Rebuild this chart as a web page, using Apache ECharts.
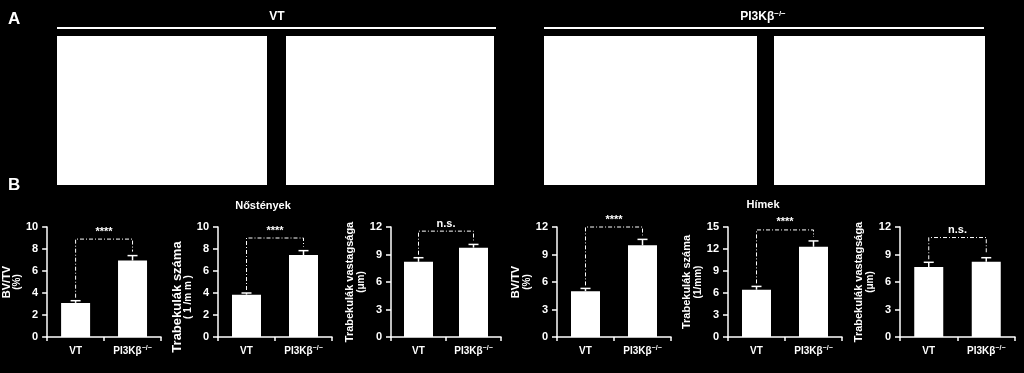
<!DOCTYPE html>
<html>
<head>
<meta charset="utf-8">
<script src="https://cdn.jsdelivr.net/npm/echarts@6/dist/echarts.min.js"></script>
<style>
html,body{margin:0;padding:0;background:#000;}
#c{width:1024px;height:373px;}
</style>
</head>
<body>
<div id="c"></div>
<script>
// ---- data ----
const categories = ['VT', 'PI3Kβ'];
const vtMean = [3.1, 3.85, 8.2, 5.0, 6.45, 7.65];
const vtErr  = [0.2, 0.15, 0.45, 0.3, 0.45, 0.5];
const piMean = [6.95, 7.45, 9.75, 10.0, 12.3, 8.2];
const piErr  = [0.45, 0.4, 0.35, 0.65, 0.8, 0.45];
const bracketLevel = [8.9, 9.0, 11.55, 12.0, 14.6, 10.85];
const sigLabels = ['****', '****', 'n.s.', '****', '****', 'n.s.'];
const yMax = [10, 10, 12, 12, 15, 12];
const yInterval = [2, 2, 3, 3, 3, 3];
const yNameMain = ['BV/TV', 'Trabekulák száma', 'Trabekulák vastagsága', 'BV/TV', 'Trabekulák száma', 'Trabekulák vastagsága'];
const yNameUnit = ['(%)', '( 1 /m m )', '(μm)', '(%)', '(1/mm)', '(μm)'];
const groupTitles = ['Nőstények', 'Hímek'];
const panelTitles = ['VT', 'PI3Kβ'];

// ---- layout ----
const FONT = 'Liberation Sans, Arial, sans-serif';
const gridLeft = [47, 218, 391, 557, 728, 900];
const gridWidth = [114, 114, 110, 114, 114, 115];
const nameGaps = [24, 23, 19, 25, 23, 22];
const nameMainSize = [11, 13, 11, 11, 11, 11];
const namePad = [[0,0,0,0],[0,30,0,0],[0,0,0,0],[0,0,0,0],[0,0,0,0],[0,0,0,0]];

const chart = echarts.init(document.getElementById('c'));

const grids = [], xAxes = [], yAxes = [], series = [];
for (let i = 0; i < 6; i++) {
  grids.push({left: gridLeft[i], width: gridWidth[i], top: 227, height: 110});
  xAxes.push({
    type: 'category', gridIndex: i, data: categories,
    axisLine: {lineStyle: {color: '#fff', width: 1.5}},
    axisTick: {show: true, length: 4, interval: 0, lineStyle: {color: '#fff', width: 1.5}},
    axisLabel: {
      margin: 8, color: '#fff', interval: 0, hideOverlap: false,
      formatter: v => v === 'VT' ? '{m|VT}' : '{m|' + v + '}{s|−/−}',
      rich: {
        m: {fontFamily: FONT, fontWeight: 'bold', fontSize: 10, color: '#fff', lineHeight: 12},
        s: {fontFamily: FONT, fontWeight: 'bold', fontSize: 7, color: '#fff', verticalAlign: 'top', padding: [0,0,6,0]}
      }
    }
  });
  yAxes.push({
    type: 'value', gridIndex: i, min: 0, max: yMax[i], interval: yInterval[i],
    splitLine: {show: false},
    axisLine: {show: true, lineStyle: {color: '#fff', width: 1.5}},
    axisTick: {show: true, length: 5, lineStyle: {color: '#fff', width: 1.5}},
    axisLabel: {color: '#fff', fontFamily: FONT, fontWeight: 'bold', fontSize: 11, margin: 9},
    name: '{a|' + yNameMain[i] + '}\n{b|' + yNameUnit[i] + '}',
    nameLocation: 'middle', nameGap: nameGaps[i],
    nameTextStyle: {
      color: '#fff', align: 'center', padding: namePad[i],
      rich: {
        a: {fontFamily: FONT, fontWeight: 'bold', fontSize: nameMainSize[i], color: '#fff', lineHeight: 11, align: 'center'},
        b: {fontFamily: FONT, fontWeight: 'bold', fontSize: 10, color: '#fff', lineHeight: 10, align: 'center'}
      }
    }
  });
  series.push({
    type: 'bar', xAxisIndex: i, yAxisIndex: i, barWidth: 29,
    itemStyle: {color: '#fff'},
    data: [vtMean[i], piMean[i]], silent: true
  });
  // error bars (upper)
  series.push({
    type: 'custom', xAxisIndex: i, yAxisIndex: i, silent: true,
    data: [[0, vtMean[i], vtMean[i] + vtErr[i]], [1, piMean[i], piMean[i] + piErr[i]]],
    renderItem: (params, api) => {
      const p0 = api.coord([api.value(0), api.value(1)]);
      const p1 = api.coord([api.value(0), api.value(2)]);
      return {type: 'group', children: [
        {type: 'line', shape: {x1: p0[0], y1: p0[1], x2: p1[0], y2: p1[1]}, style: {stroke: '#fff', lineWidth: 1.5}},
        {type: 'line', shape: {x1: p1[0] - 5, y1: p1[1], x2: p1[0] + 5, y2: p1[1]}, style: {stroke: '#fff', lineWidth: 1.5}}
      ]};
    }
  });
  // significance bracket
  series.push({
    type: 'custom', xAxisIndex: i, yAxisIndex: i, silent: true,
    data: [[vtMean[i] + vtErr[i], piMean[i] + piErr[i], bracketLevel[i]]],
    renderItem: (params, api) => {
      const a = api.coord([0, api.value(0)]);
      const b = api.coord([1, api.value(1)]);
      const ya = api.coord([0, api.value(2)])[1];
      const pts = [[a[0], a[1] - 3], [a[0], ya], [b[0], ya], [b[0], b[1] - 4]];
      return {type: 'group', children: [
        {type: 'polyline', shape: {points: pts}, style: {stroke: '#fff', lineWidth: 1, fill: null, lineDash: [4, 2, 1, 2]}},
        {type: 'text', style: {x: (a[0] + b[0]) / 2, y: ya - 2, text: sigLabels[i],
          fill: '#fff', font: 'bold 11px ' + FONT, textAlign: 'center', textVerticalAlign: 'bottom'}}
      ]};
    }
  });
}

const graphics = [
  {type: 'text', left: 8, top: 11, style: {text: 'A', fill: '#fff', font: 'bold 17px ' + FONT}},
  {type: 'text', left: 8, top: 177, style: {text: 'B', fill: '#fff', font: 'bold 17px ' + FONT}},
  {type: 'rect', shape: {x: 57, y: 27, width: 439, height: 2}, style: {fill: '#fff'}},
  {type: 'rect', shape: {x: 544, y: 27, width: 440, height: 2}, style: {fill: '#fff'}},
  {type: 'rect', shape: {x: 57, y: 36, width: 210, height: 149}, style: {fill: '#fff'}},
  {type: 'rect', shape: {x: 286, y: 36, width: 208, height: 149}, style: {fill: '#fff'}},
  {type: 'rect', shape: {x: 544, y: 36, width: 213, height: 149}, style: {fill: '#fff'}},
  {type: 'rect', shape: {x: 774, y: 36, width: 211, height: 149}, style: {fill: '#fff'}},
  {type: 'text', x: 277, y: 17, style: {text: panelTitles[0], fill: '#fff', font: 'bold 12px ' + FONT, textAlign: 'center', textVerticalAlign: 'middle'}},
  {type: 'text', x: 763, y: 17, style: {
    text: '{m|' + panelTitles[1] + '}{s|−/−}', textAlign: 'center', textVerticalAlign: 'middle',
    rich: {m: {fill: '#fff', font: 'bold 12px ' + FONT, lineHeight: 14}, s: {fill: '#fff', font: 'bold 8px ' + FONT, verticalAlign: 'top', padding: [0,0,7,0]}}
  }},
  {type: 'text', x: 263, y: 206, style: {text: groupTitles[0], fill: '#fff', font: 'bold 11px ' + FONT, textAlign: 'center', textVerticalAlign: 'middle'}},
  {type: 'text', x: 763, y: 205, style: {text: groupTitles[1], fill: '#fff', font: 'bold 11px ' + FONT, textAlign: 'center', textVerticalAlign: 'middle'}}
];

chart.setOption({
  backgroundColor: '#000',
  animation: false,
  grid: grids, xAxis: xAxes, yAxis: yAxes, series: series,
  graphic: graphics
});
</script>
</body>
</html>
